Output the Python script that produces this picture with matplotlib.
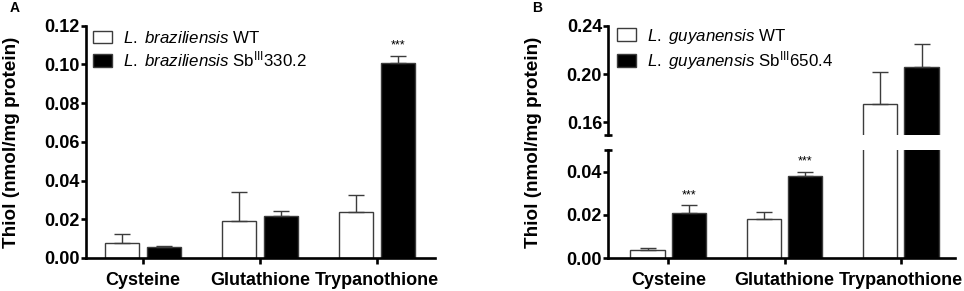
import matplotlib
matplotlib.use("Agg")
import matplotlib.pyplot as plt
import numpy as np

plt.rcParams['font.family'] = ['Liberation Sans', 'DejaVu Sans']
plt.rcParams['mathtext.fontset'] = 'custom'
plt.rcParams['mathtext.rm'] = 'Liberation Sans'
plt.rcParams['mathtext.it'] = 'Liberation Sans:italic'
plt.rcParams['mathtext.bf'] = 'Liberation Sans:bold'

categories = ["Cysteine", "Glutathione", "Trypanothione"]

# Panel A
a_wt = [0.0080, 0.0192, 0.0236]
a_wt_err = [0.0045, 0.0150, 0.0088]
a_res = [0.0058, 0.0218, 0.1008]
a_res_err = [0.0004, 0.0027, 0.0036]
a_sig = ["", "", "***"]
a_labels = [r"$\it{L.\ braziliensis}$ WT", r"$\it{L.\ braziliensis}$ Sb$^{\rm{III}}$330.2"]
a_yticks = [0.00, 0.02, 0.04, 0.06, 0.08, 0.10, 0.12]

# Panel B
b_wt = [0.0039, 0.0183, 0.1752]
b_wt_err = [0.0010, 0.0029, 0.0262]
b_res = [0.0209, 0.0380, 0.2060]
b_res_err = [0.0036, 0.0018, 0.0191]
b_sig = ["***", "***", ""]
b_labels = [r"$\it{L.\ guyanensis}$ WT", r"$\it{L.\ guyanensis}$ Sb$^{\rm{III}}$650.4"]
b_low_ticks = [0.00, 0.02, 0.04]
b_up_ticks = [0.16, 0.20, 0.24]

EDGE = '#3c3c3c'
LW = 1.0
SPW = 1.9
FS = 13.0
W = 0.295
OFF = 0.178
YLAB = "Thiol (nmol/mg protein)"

fig = plt.figure(figsize=(9.64, 2.91), dpi=100)

def style_ax(ax, bottom=True):
    for s in ['top', 'right']:
        ax.spines[s].set_visible(False)
    ax.spines['left'].set_linewidth(SPW)
    ax.spines['bottom'].set_linewidth(SPW)
    if not bottom:
        ax.spines['bottom'].set_visible(False)
    ax.tick_params(axis='y', direction='out', length=3.5, width=SPW, labelsize=FS, pad=1)
    ax.tick_params(axis='x', direction='out', length=4, width=SPW, labelsize=FS, pad=6)
    for lab in ax.get_yticklabels() + ax.get_xticklabels():
        lab.set_fontweight('bold')

def draw_bars(ax, wt, wte, res, rese, sig=None):
    x = np.arange(len(categories))
    b1 = ax.bar(x - OFF, wt, W, color='white', edgecolor=EDGE, linewidth=LW,
                yerr=[np.zeros(len(wt)), wte], error_kw=dict(ecolor=EDGE, elinewidth=LW, capsize=6, capthick=LW))
    b2 = ax.bar(x + OFF, res, W, color='black', edgecolor=EDGE, linewidth=LW,
                yerr=[np.zeros(len(res)), rese], error_kw=dict(ecolor=EDGE, elinewidth=LW, capsize=6, capthick=LW))
    if sig is not None:
        for xi, v, e, s in zip(x, res, rese, sig):
            if s:
                ax.annotate(s, (xi + OFF, v + e), xytext=(0, 3), textcoords='offset points',
                            ha='center', va='bottom', fontsize=9)
    return x, b1, b2

def add_legend(ax, handles, labels, anchor):
    leg = ax.legend(handles, labels, loc='upper left', bbox_to_anchor=anchor, frameon=False,
                    fontsize=12.2, handlelength=1.1, handleheight=0.8, handletextpad=0.65,
                    labelspacing=0.22, borderpad=0, borderaxespad=0)
    for h in leg.legend_handles:
        h.set_linewidth(LW)
    return leg

# ---- Panel A ----
axA = fig.add_axes([86/964, 1 - 258/291, 349/964, 232.3/291])
x, h1, h2 = draw_bars(axA, a_wt, a_wt_err, a_res, a_res_err, a_sig)
axA.set_xlim(-0.487, 2.496)
axA.set_ylim(0, 0.12)
axA.set_yticks(a_yticks)
axA.set_yticklabels([f"{v:.2f}" for v in a_yticks])
axA.set_xticks(x)
axA.set_xticklabels(categories)
style_ax(axA)
add_legend(axA, [h1, h2], a_labels, (0.02, 0.982))
fig.text(10/964, 1 - 8/291, "A", fontsize=10, fontweight='bold', ha='left', va='center')
fig.text(12/964, (1 - 258/291 + 1 - 25.7/291) / 2, YLAB, rotation=90,
         fontsize=13.6, fontweight='bold', ha='center', va='center')

# ---- Panel B ----
left_b = 608.3/964
width_b = 346.7/964
axL = fig.add_axes([left_b, 1 - 258.3/291, width_b, 108.3/291])
axU = fig.add_axes([left_b, 1 - 135/291, width_b, 109.3/291])
x, _, _ = draw_bars(axL, b_wt, b_wt_err, b_res, b_res_err, b_sig)
_, g1, g2 = draw_bars(axU, b_wt, b_wt_err, b_res, b_res_err, None)
for ax in (axL, axU):
    ax.set_xlim(-0.516, 2.465)
axL.set_ylim(0, 0.05)
axU.set_ylim(0.1495, 0.24)
axL.set_yticks(b_low_ticks)
axL.set_yticklabels([f"{v:.2f}" for v in b_low_ticks])
axU.set_yticks(b_up_ticks)
axU.set_yticklabels([f"{v:.2f}" for v in b_up_ticks])
axL.set_xticks(x)
axL.set_xticklabels(categories)
axU.set_xticks([])
style_ax(axL)
style_ax(axU, bottom=False)
# axis-break marks
for ax, yy in ((axL, 1.0), (axU, 0.0)):
    ax.plot([-0.012, 0.012], [yy, yy], transform=ax.transAxes, color='black',
            lw=SPW, clip_on=False, solid_capstyle='butt')
add_legend(axU, [g1, g2], b_labels, (0.025, 0.99))
fig.text(532/964, 1 - 8/291, "B", fontsize=10, fontweight='bold', ha='left', va='center')
fig.text(534/964, (1 - 258.3/291 + 1 - 25.7/291) / 2, YLAB, rotation=90,
         fontsize=13.6, fontweight='bold', ha='center', va='center')

fig.savefig("out.png", dpi=100)
